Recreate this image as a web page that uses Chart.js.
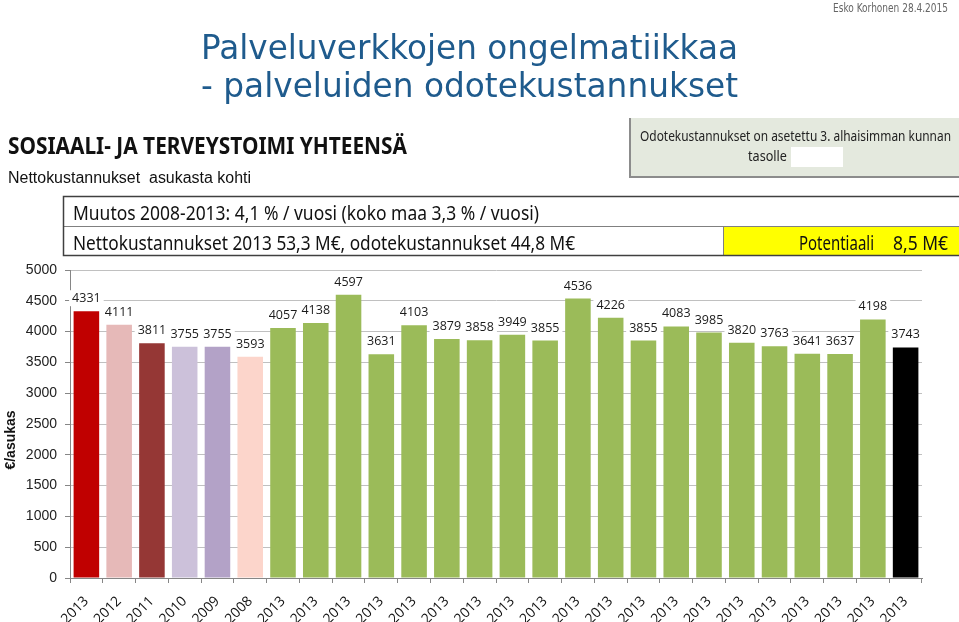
<!DOCTYPE html>
<html>
<head>
<meta charset="utf-8">
<script src="https://cdn.jsdelivr.net/npm/chart.js@4.4.1/dist/chart.umd.min.js"></script>
<style>
  html, body { margin: 0; padding: 0; background: #fff; overflow: hidden; }
  #chart { display: block; }
</style>
</head>
<body>
<canvas id="chart" width="959" height="622" style="width:959px;height:622px"></canvas>
<script>
// Datos
const categories = [
  '2013', '2012', '2011', '2010', '2009', '2008',
  '2013', '2013', '2013', '2013', '2013', '2013', '2013', '2013', '2013', '2013',
  '2013', '2013', '2013', '2013', '2013', '2013', '2013', '2013', '2013', '2013'
];
const values = [
  4331, 4111, 3811, 3755, 3755, 3593,
  4057, 4138, 4597, 3631, 4103, 3879, 3858, 3949, 3855, 4536,
  4226, 3855, 4083, 3985, 3820, 3763, 3641, 3637, 4198, 3743
];
const yMin = 0;
const yMax = 5000;
const yStep = 500;

// Colores de las barras (estilo, no datos)
const green = '#9BBB59';
const barColors = ['#C00000', '#E6B9B8', '#953735', '#CCC1DA', '#B3A2C7', '#FCD5CB']
  .concat(Array(19).fill(green), ['#000000']);

// Texto estirado al ancho medido en la imagen
function stretchText(ctx, text, x, y, width, font, color) {
  ctx.save();
  ctx.font = font;
  ctx.fillStyle = color;
  ctx.textAlign = 'left';
  ctx.textBaseline = 'alphabetic';
  const w = ctx.measureText(text).width;
  ctx.translate(x, y);
  ctx.scale(width / w, 1);
  ctx.fillText(text, 0, 0);
  ctx.restore();
}

// Cabecera: títulos, cajas de texto
const headerPlugin = {
  id: 'header',
  beforeDraw(chart) {
    const ctx = chart.ctx;
    ctx.save();
    ctx.fillStyle = '#fff';
    ctx.fillRect(0, 0, chart.width, chart.height);

    stretchText(ctx, 'Esko Korhonen 28.4.2015', 833, 12, 115, '12px "DejaVu Sans"', '#666666');
    stretchText(ctx, 'Palveluverkkojen ongelmatiikkaa', 201, 59, 537, '34px "DejaVu Sans"', '#1F5B8D');
    stretchText(ctx, '- palveluiden odotekustannukset', 201, 97, 537, '34px "DejaVu Sans"', '#1F5B8D');

    stretchText(ctx, 'SOSIAALI- JA TERVEYSTOIMI YHTEENSÄ', 8, 154, 399, 'bold 24px "Noto Sans"', '#111111');
    stretchText(ctx, 'Nettokustannukset  asukasta kohti', 8, 183, 243, '16px "Liberation Sans"', '#111111');

    // caja verde
    ctx.fillStyle = '#E4E9DE';
    ctx.fillRect(629, 118, 330, 59);
    ctx.fillStyle = '#8C8C8C';
    ctx.fillRect(629, 118, 2, 60);
    ctx.fillRect(629, 176, 330, 2);
    stretchText(ctx, 'Odotekustannukset on asetettu 3. alhaisimman kunnan', 640, 141, 311, '14px "Noto Sans"', '#222222');
    stretchText(ctx, 'tasolle', 748, 161, 39, '14px "Noto Sans"', '#222222');
    ctx.fillStyle = '#FFFFFF';
    ctx.fillRect(791, 147, 52, 20);

    // tabla
    ctx.fillStyle = '#FFFF00';
    ctx.fillRect(723, 226, 236, 30);
    ctx.strokeStyle = '#808080';
    ctx.lineWidth = 1;
    ctx.beginPath();
    ctx.moveTo(63, 226.5); ctx.lineTo(959, 226.5);
    ctx.moveTo(723.5, 226); ctx.lineTo(723.5, 256);
    ctx.stroke();
    ctx.strokeStyle = '#404040';
    ctx.lineWidth = 1.5;
    ctx.strokeRect(63.5, 196.5, 905, 59);
    stretchText(ctx, 'Muutos 2008-2013: 4,1 % / vuosi (koko maa 3,3 % / vuosi)', 73, 220, 466, '19px "Noto Sans"', '#111111');
    stretchText(ctx, 'Nettokustannukset 2013 53,3 M€, odotekustannukset 44,8 M€', 73, 250, 502, '19px "Noto Sans"', '#111111');
    stretchText(ctx, 'Potentiaali', 799, 250, 75, '19px "Noto Sans"', '#111111');
    stretchText(ctx, '8,5 M€', 893, 250, 55, '19px "Noto Sans"', '#111111');

    // título del eje Y
    ctx.save();
    ctx.translate(15, 440);
    ctx.rotate(-Math.PI / 2);
    ctx.font = 'bold 14px "Liberation Sans"';
    ctx.fillStyle = '#111111';
    ctx.textAlign = 'center';
    ctx.textBaseline = 'alphabetic';
    ctx.fillText('€/asukas', 0, 0);
    ctx.restore();

    ctx.restore();
  }
};

// Etiquetas de valor con fondo blanco sobre cada barra
const valueLabels = {
  id: 'valueLabels',
  afterDatasetsDraw(chart) {
    const ctx = chart.ctx;
    const meta = chart.getDatasetMeta(0);
    ctx.save();
    ctx.font = '12.5px "Open Sans"';
    ctx.textAlign = 'center';
    ctx.textBaseline = 'alphabetic';
    meta.data.forEach((bar, i) => {
      const txt = String(values[i]);
      const w = ctx.measureText(txt).width;
      const y = bar.y - 9;
      ctx.fillStyle = '#ffffff';
      ctx.fillRect(bar.x - w / 2 - 3, y - 12, w + 6, 16);
      ctx.fillStyle = '#1a1a1a';
      ctx.fillText(txt, bar.x, y);
    });
    ctx.restore();
  }
};

new Chart(document.getElementById('chart'), {
  type: 'bar',
  data: {
    labels: categories,
    datasets: [{
      data: values,
      backgroundColor: barColors,
      borderWidth: 0,
      barPercentage: 0.78,
      categoryPercentage: 1.0
    }]
  },
  plugins: [headerPlugin, valueLabels],
  options: {
    responsive: false,
    animation: false,
    devicePixelRatio: 1,
    layout: { padding: { top: 270, right: 37, left: 0, bottom: 0 } },
    plugins: {
      legend: { display: false },
      tooltip: { enabled: false },
      title: { display: false }
    },
    scales: {
      x: {
        afterFit(scale) { scale.height = 44; },
        grid: {
          offset: true,
          drawOnChartArea: false,
          drawTicks: true,
          tickLength: 5,
          color: '#868686'
        },
        border: { color: '#868686' },
        ticks: {
          maxRotation: 45,
          minRotation: 45,
          autoSkip: false,
          padding: 10,
          color: '#111111',
          font: { family: '"Open Sans"', size: 14 }
        }
      },
      y: {
        min: yMin,
        max: yMax,
        afterFit(scale) { scale.width = 70; },
        grid: {
          color: '#C0C0C0',
          tickLength: 5,
          tickColor: '#868686'
        },
        border: { color: '#868686' },
        ticks: {
          stepSize: yStep,
          padding: 8,
          color: '#222222',
          font: { family: '"Liberation Sans"', size: 14 },
          callback: (v) => String(v)
        }
      }
    }
  }
});
</script>
</body>
</html>
